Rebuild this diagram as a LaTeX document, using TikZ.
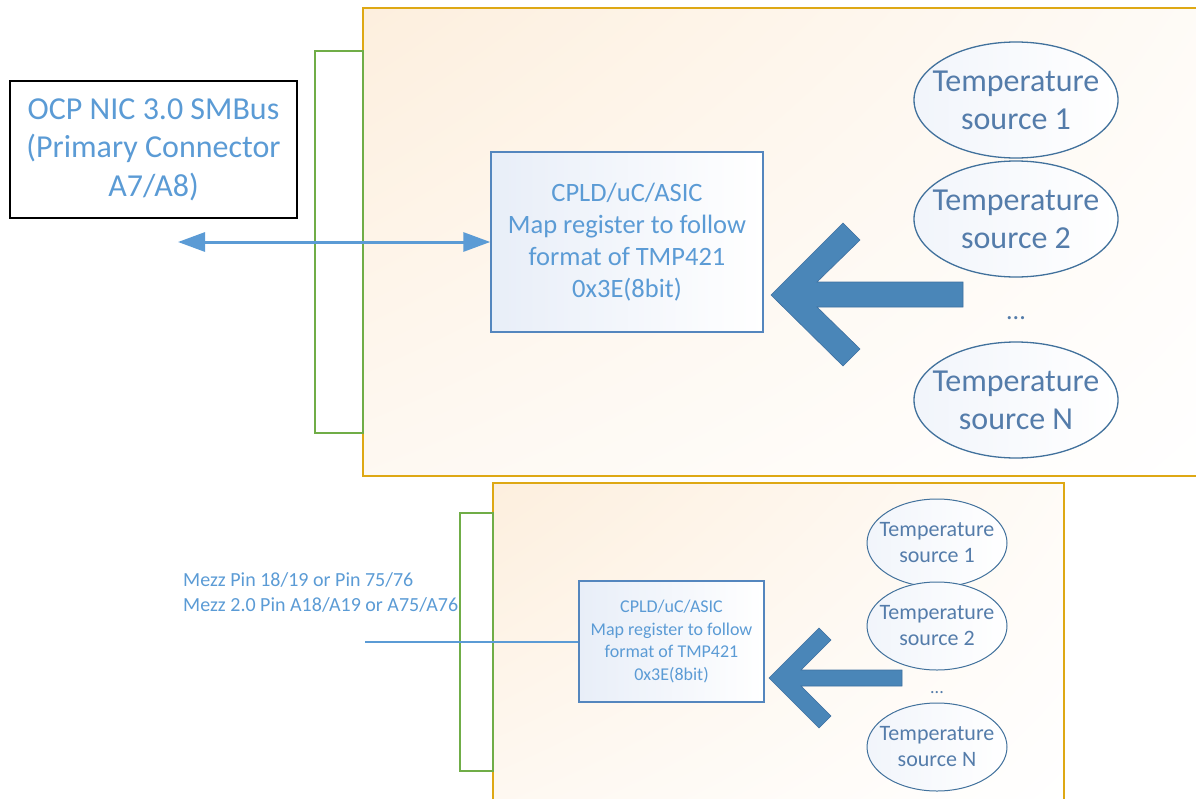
\documentclass[tikz,border=0pt]{standalone}
\usepackage{fontspec}
\setmainfont{Carlito}
\usetikzlibrary{arrows.meta,shapes.geometric,shadings}
\definecolor{boardline}{RGB}{222,168,20}
\definecolor{boardfill}{RGB}{253,239,222}
\definecolor{pinline}{RGB}{112,173,71}
\definecolor{busblue}{RGB}{91,155,213}
\definecolor{chipline}{RGB}{84,134,190}
\definecolor{chipfill}{RGB}{232,238,248}
\definecolor{srcline}{RGB}{65,113,156}
\definecolor{srctext}{RGB}{84,124,170}
\definecolor{arrowfill}{RGB}{74,134,184}
\definecolor{arrowline}{RGB}{62,112,160}
\begin{document}
\begin{tikzpicture}[x=1pt,y=-1pt,
    board/.style={draw=boardline,line width=2.4pt},
    pins/.style={draw=pinline,line width=1.6pt,fill=white},
    chip/.style={draw=chipline,line width=1.4pt,left color=chipfill,right color=white,
      align=center,text=busblue,inner sep=0pt},
    src/.style={ellipse,draw=srcline,line width=1.3pt,left color=chipfill!60!white,
      right color=white,inner sep=0pt},
    srcbig/.style={src,minimum width=204pt,minimum height=116pt,
      label={[align=center,text=srctext,font=\fontsize{32}{38}\selectfont]center:#1}},
    srcsmall/.style={src,line width=1pt,minimum width=140pt,minimum height=88pt,
      label={[align=center,text=srctext,font=\fontsize{22}{26}\selectfont]center:#1}},
    bigarrow/.style={fill=arrowfill,draw=arrowline,line width=0.6pt,line join=miter}]
  \useasboundingbox (0,0) rectangle (1196,798);
  \clip (0,0) rectangle (1196,798);
  % upper card
  \shade[upper left=boardfill,upper right=boardfill!25!white,lower left=boardfill!40!white,lower right=white]
    (363,8) rectangle (1210,476);
  \draw[board] (363,8) rectangle (1210,476);
  \draw[pins] (315,51) rectangle (363,433);
  \node[draw=black,line width=1.5pt,minimum width=287pt,minimum height=137pt,align=center,
    text=busblue,font=\fontsize{32}{38.5}\selectfont] (smbus) at (153.5,149.5)
    {OCP NIC 3.0 SMBus\\(Primary Connector\\A7/A8)};
  \node[chip,minimum width=272pt,minimum height=180pt,font=\fontsize{26.5}{32}\selectfont]
    (chipA) at (627,242) {CPLD/uC/ASIC\\Map register to follow\\format of TMP421\\0x3E(8bit)};
  \coordinate (busend) at (178,242);
  \draw[busblue,line width=3pt,{Triangle[width=19pt,length=27pt]}-{Triangle[width=19pt,length=27pt]}]
    (busend) -- (chipA.west);
  \node[srcbig={Temperature\\source 1}] (srcA1) at (1016,100) {};
  \node[srcbig={Temperature\\source 2}] (srcA2) at (1016,219) {};
  \node[text=srctext,font=\fontsize{26}{30}\selectfont] (dotsA) at (1016,318) {...};
  \node[srcbig={Temperature\\source N}] (srcAN) at (1016,400) {};
  \coordinate (tipA) at (771,295);
  \draw[bigarrow] (tipA) -- ++(72,-72) -- ++(17,17) -- ++(-43,42) -- ++(146,0) -- ++(0,25)
    -- ++(-146,0) -- ++(43,42) -- ++(-17,17) -- cycle;
  % lower card
  \shade[upper left=boardfill,upper right=boardfill!25!white,lower left=boardfill!40!white,lower right=white]
    (493,483) rectangle (1064,810);
  \draw[board,line width=1.4pt] (493,483) rectangle (1064,810);
  \draw[pins,line width=1.4pt] (460,513) rectangle (493,771);
  \node[anchor=west,align=left,inner sep=0pt,text=busblue,font=\fontsize{20}{25}\selectfont] (mezz) at (183,592)
    {Mezz Pin 18/19 or Pin 75/76\\Mezz 2.0 Pin A18/A19 or A75/A76};
  \node[chip,line width=1.2pt,minimum width=185pt,minimum height=121pt,font=\fontsize{18}{22.7}\selectfont]
    (chipB) at (671.5,641.5) {CPLD/uC/ASIC\\Map register to follow\\format of TMP421\\0x3E(8bit)};
  \coordinate (mezzend) at (365,641.5);
  \draw[busblue,line width=2pt] (mezzend) -- (chipB.west);
  \node[srcsmall={Temperature\\source 1}] (srcB1) at (937,543) {};
  \node[srcsmall={Temperature\\source 2}] (srcB2) at (937,626) {};
  \node[text=srctext,font=\fontsize{18}{22}\selectfont] (dotsB) at (937,693) {...};
  \node[srcsmall={Temperature\\source N}] (srcBN) at (937,747) {};
  \coordinate (tipB) at (769,678);
  \draw[bigarrow] (tipB) -- ++(50,-50) -- ++(12,12) -- ++(-30,30) -- ++(101,0) -- ++(0,16)
    -- ++(-101,0) -- ++(30,30) -- ++(-12,12) -- cycle;
\end{tikzpicture}
\end{document}
